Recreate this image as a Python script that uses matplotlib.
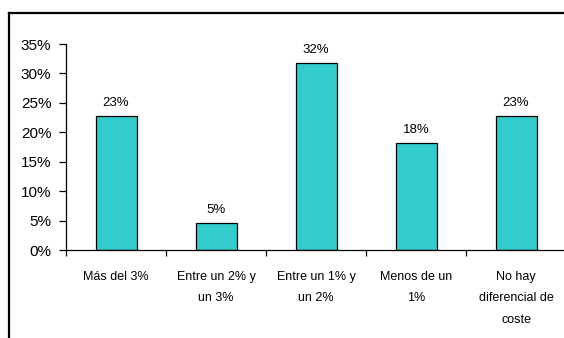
import matplotlib.pyplot as plt
from matplotlib.lines import Line2D
from matplotlib.ticker import PercentFormatter, FixedLocator, NullFormatter

categories = ["Más del 3%", "Entre un 2% y\nun 3%", "Entre un 1% y\nun 2%",
              "Menos de un\n1%", "No hay\ndiferencial de\ncoste"]
counts = [5, 1, 7, 4, 5]
total = 22
shares = [c / total for c in counts]

plt.rcParams['font.family'] = ['Liberation Sans', 'DejaVu Sans']

fig = plt.figure(figsize=(5.64, 3.38), dpi=100)

# outer frame of the chart area (top and left edges only are in view)
fx, fy = 8.5 / 564, (338 - 13) / 338
fig.lines.append(Line2D([fx, 1.0], [fy, fy], transform=fig.transFigure,
                        color='black', linewidth=1.6))
fig.lines.append(Line2D([fx, fx], [0.0, fy], transform=fig.transFigure,
                        color='black', linewidth=1.6))

ax = fig.add_axes([66 / 564, 88 / 338, 500 / 564, 206 / 338])
x = list(range(len(categories)))
bars = ax.bar(x, shares, width=0.41, color='#33CCCC', edgecolor='black', linewidth=0.9)

for b, v in zip(bars, shares):
    ax.annotate(f"{v:.0%}", (b.get_x() + b.get_width() / 2, v),
                xytext=(0, 5), textcoords='offset points',
                ha='center', va='bottom', fontsize=9.5)

ax.set_xlim(-0.5, len(categories) - 0.5)
ax.set_ylim(0, 0.35)
ax.set_yticks([i * 0.05 for i in range(8)])
ax.yaxis.set_major_formatter(PercentFormatter(1.0, decimals=0))

# ticks sit between categories, labels at the centres
ax.xaxis.set_major_locator(FixedLocator([i - 0.5 for i in range(len(categories) + 1)]))
ax.xaxis.set_major_formatter(NullFormatter())
ax.xaxis.set_minor_locator(FixedLocator(x))
ax.set_xticklabels(categories, minor=True, fontsize=9, linespacing=2.05)
ax.tick_params(axis='x', which='minor', length=0, pad=15)
ax.tick_params(axis='x', which='major', length=4, direction='out', width=0.9)
ax.tick_params(axis='y', length=5, direction='out', width=0.9, labelsize=11, pad=5.5)

for s in ['top', 'right']:
    ax.spines[s].set_visible(False)
for s in ['left', 'bottom']:
    ax.spines[s].set_linewidth(0.9)

fig.savefig('out.png', dpi=100)
